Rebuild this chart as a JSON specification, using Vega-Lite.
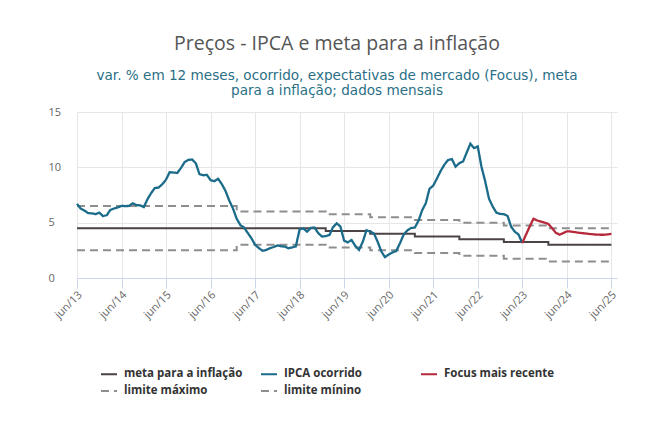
{
  "$schema": "https://vega.github.io/schema/vega-lite/v6.json",
  "width": 540,
  "height": 166,
  "autosize": {"type": "none"},
  "padding": {"left": 77, "top": 112, "right": 37, "bottom": 156},
  "background": "#ffffff",
  "title": {
    "text": "Preços - IPCA e meta para a inflação",
    "subtitle": ["var. % em 12 meses, ocorrido, expectativas de mercado (Focus), meta", "para a inflação; dados mensais"],
    "anchor": "middle",
    "dx": -10,
    "font": "Open Sans",
    "fontSize": 19.5,
    "fontWeight": 500,
    "color": "#555555",
    "subtitleFont": "DejaVu Sans",
    "subtitleFontSize": 13.6,
    "subtitleColor": "#2a6f86",
    "subtitlePadding": 14,
    "subtitleLineHeight": 15.5,
    "offset": 7
  },
  "config": {
    "view": {"stroke": null},
    "font": "Open Sans",
    "axis": {
      "labelFont": "Open Sans",
      "labelColor": "#666666",
      "labelFontSize": 11,
      "gridColor": "#e6e6e6",
      "title": null
    }
  },
  "data": {
    "values": [
      {"data": "2013-06-01", "serie": "IPCA ocorrido", "valor": 6.70},
      {"data": "2013-07-01", "serie": "IPCA ocorrido", "valor": 6.27},
      {"data": "2013-08-01", "serie": "IPCA ocorrido", "valor": 6.09},
      {"data": "2013-09-01", "serie": "IPCA ocorrido", "valor": 5.86},
      {"data": "2013-10-01", "serie": "IPCA ocorrido", "valor": 5.84},
      {"data": "2013-11-01", "serie": "IPCA ocorrido", "valor": 5.77},
      {"data": "2013-12-01", "serie": "IPCA ocorrido", "valor": 5.91},
      {"data": "2014-01-01", "serie": "IPCA ocorrido", "valor": 5.59},
      {"data": "2014-02-01", "serie": "IPCA ocorrido", "valor": 5.68},
      {"data": "2014-03-01", "serie": "IPCA ocorrido", "valor": 6.15},
      {"data": "2014-04-01", "serie": "IPCA ocorrido", "valor": 6.28},
      {"data": "2014-05-01", "serie": "IPCA ocorrido", "valor": 6.37},
      {"data": "2014-06-01", "serie": "IPCA ocorrido", "valor": 6.52},
      {"data": "2014-07-01", "serie": "IPCA ocorrido", "valor": 6.50},
      {"data": "2014-08-01", "serie": "IPCA ocorrido", "valor": 6.51},
      {"data": "2014-09-01", "serie": "IPCA ocorrido", "valor": 6.75},
      {"data": "2014-10-01", "serie": "IPCA ocorrido", "valor": 6.59},
      {"data": "2014-11-01", "serie": "IPCA ocorrido", "valor": 6.56},
      {"data": "2014-12-01", "serie": "IPCA ocorrido", "valor": 6.41},
      {"data": "2015-01-01", "serie": "IPCA ocorrido", "valor": 7.14},
      {"data": "2015-02-01", "serie": "IPCA ocorrido", "valor": 7.70},
      {"data": "2015-03-01", "serie": "IPCA ocorrido", "valor": 8.13},
      {"data": "2015-04-01", "serie": "IPCA ocorrido", "valor": 8.17},
      {"data": "2015-05-01", "serie": "IPCA ocorrido", "valor": 8.47},
      {"data": "2015-06-01", "serie": "IPCA ocorrido", "valor": 8.89},
      {"data": "2015-07-01", "serie": "IPCA ocorrido", "valor": 9.56},
      {"data": "2015-08-01", "serie": "IPCA ocorrido", "valor": 9.53},
      {"data": "2015-09-01", "serie": "IPCA ocorrido", "valor": 9.49},
      {"data": "2015-10-01", "serie": "IPCA ocorrido", "valor": 9.93},
      {"data": "2015-11-01", "serie": "IPCA ocorrido", "valor": 10.48},
      {"data": "2015-12-01", "serie": "IPCA ocorrido", "valor": 10.67},
      {"data": "2016-01-01", "serie": "IPCA ocorrido", "valor": 10.71},
      {"data": "2016-02-01", "serie": "IPCA ocorrido", "valor": 10.36},
      {"data": "2016-03-01", "serie": "IPCA ocorrido", "valor": 9.39},
      {"data": "2016-04-01", "serie": "IPCA ocorrido", "valor": 9.28},
      {"data": "2016-05-01", "serie": "IPCA ocorrido", "valor": 9.32},
      {"data": "2016-06-01", "serie": "IPCA ocorrido", "valor": 8.84},
      {"data": "2016-07-01", "serie": "IPCA ocorrido", "valor": 8.74},
      {"data": "2016-08-01", "serie": "IPCA ocorrido", "valor": 8.97},
      {"data": "2016-09-01", "serie": "IPCA ocorrido", "valor": 8.48},
      {"data": "2016-10-01", "serie": "IPCA ocorrido", "valor": 7.87},
      {"data": "2016-11-01", "serie": "IPCA ocorrido", "valor": 6.99},
      {"data": "2016-12-01", "serie": "IPCA ocorrido", "valor": 6.29},
      {"data": "2017-01-01", "serie": "IPCA ocorrido", "valor": 5.35},
      {"data": "2017-02-01", "serie": "IPCA ocorrido", "valor": 4.76},
      {"data": "2017-03-01", "serie": "IPCA ocorrido", "valor": 4.57},
      {"data": "2017-04-01", "serie": "IPCA ocorrido", "valor": 4.08},
      {"data": "2017-05-01", "serie": "IPCA ocorrido", "valor": 3.60},
      {"data": "2017-06-01", "serie": "IPCA ocorrido", "valor": 3.00},
      {"data": "2017-07-01", "serie": "IPCA ocorrido", "valor": 2.71},
      {"data": "2017-08-01", "serie": "IPCA ocorrido", "valor": 2.46},
      {"data": "2017-09-01", "serie": "IPCA ocorrido", "valor": 2.54},
      {"data": "2017-10-01", "serie": "IPCA ocorrido", "valor": 2.70},
      {"data": "2017-11-01", "serie": "IPCA ocorrido", "valor": 2.80},
      {"data": "2017-12-01", "serie": "IPCA ocorrido", "valor": 2.95},
      {"data": "2018-01-01", "serie": "IPCA ocorrido", "valor": 2.86},
      {"data": "2018-02-01", "serie": "IPCA ocorrido", "valor": 2.84},
      {"data": "2018-03-01", "serie": "IPCA ocorrido", "valor": 2.68},
      {"data": "2018-04-01", "serie": "IPCA ocorrido", "valor": 2.76},
      {"data": "2018-05-01", "serie": "IPCA ocorrido", "valor": 2.86},
      {"data": "2018-06-01", "serie": "IPCA ocorrido", "valor": 4.39},
      {"data": "2018-07-01", "serie": "IPCA ocorrido", "valor": 4.48},
      {"data": "2018-08-01", "serie": "IPCA ocorrido", "valor": 4.19},
      {"data": "2018-09-01", "serie": "IPCA ocorrido", "valor": 4.53},
      {"data": "2018-10-01", "serie": "IPCA ocorrido", "valor": 4.56},
      {"data": "2018-11-01", "serie": "IPCA ocorrido", "valor": 4.05},
      {"data": "2018-12-01", "serie": "IPCA ocorrido", "valor": 3.75},
      {"data": "2019-01-01", "serie": "IPCA ocorrido", "valor": 3.78},
      {"data": "2019-02-01", "serie": "IPCA ocorrido", "valor": 3.89},
      {"data": "2019-03-01", "serie": "IPCA ocorrido", "valor": 4.58},
      {"data": "2019-04-01", "serie": "IPCA ocorrido", "valor": 4.94},
      {"data": "2019-05-01", "serie": "IPCA ocorrido", "valor": 4.66},
      {"data": "2019-06-01", "serie": "IPCA ocorrido", "valor": 3.37},
      {"data": "2019-07-01", "serie": "IPCA ocorrido", "valor": 3.22},
      {"data": "2019-08-01", "serie": "IPCA ocorrido", "valor": 3.43},
      {"data": "2019-09-01", "serie": "IPCA ocorrido", "valor": 2.89},
      {"data": "2019-10-01", "serie": "IPCA ocorrido", "valor": 2.54},
      {"data": "2019-11-01", "serie": "IPCA ocorrido", "valor": 3.27},
      {"data": "2019-12-01", "serie": "IPCA ocorrido", "valor": 4.31},
      {"data": "2020-01-01", "serie": "IPCA ocorrido", "valor": 4.19},
      {"data": "2020-02-01", "serie": "IPCA ocorrido", "valor": 4.01},
      {"data": "2020-03-01", "serie": "IPCA ocorrido", "valor": 3.30},
      {"data": "2020-04-01", "serie": "IPCA ocorrido", "valor": 2.40},
      {"data": "2020-05-01", "serie": "IPCA ocorrido", "valor": 1.88},
      {"data": "2020-06-01", "serie": "IPCA ocorrido", "valor": 2.13},
      {"data": "2020-07-01", "serie": "IPCA ocorrido", "valor": 2.31},
      {"data": "2020-08-01", "serie": "IPCA ocorrido", "valor": 2.44},
      {"data": "2020-09-01", "serie": "IPCA ocorrido", "valor": 3.14},
      {"data": "2020-10-01", "serie": "IPCA ocorrido", "valor": 3.92},
      {"data": "2020-11-01", "serie": "IPCA ocorrido", "valor": 4.31},
      {"data": "2020-12-01", "serie": "IPCA ocorrido", "valor": 4.52},
      {"data": "2021-01-01", "serie": "IPCA ocorrido", "valor": 4.56},
      {"data": "2021-02-01", "serie": "IPCA ocorrido", "valor": 5.20},
      {"data": "2021-03-01", "serie": "IPCA ocorrido", "valor": 6.10},
      {"data": "2021-04-01", "serie": "IPCA ocorrido", "valor": 6.76},
      {"data": "2021-05-01", "serie": "IPCA ocorrido", "valor": 8.06},
      {"data": "2021-06-01", "serie": "IPCA ocorrido", "valor": 8.35},
      {"data": "2021-07-01", "serie": "IPCA ocorrido", "valor": 8.99},
      {"data": "2021-08-01", "serie": "IPCA ocorrido", "valor": 9.68},
      {"data": "2021-09-01", "serie": "IPCA ocorrido", "valor": 10.25},
      {"data": "2021-10-01", "serie": "IPCA ocorrido", "valor": 10.67},
      {"data": "2021-11-01", "serie": "IPCA ocorrido", "valor": 10.74},
      {"data": "2021-12-01", "serie": "IPCA ocorrido", "valor": 10.06},
      {"data": "2022-01-01", "serie": "IPCA ocorrido", "valor": 10.38},
      {"data": "2022-02-01", "serie": "IPCA ocorrido", "valor": 10.54},
      {"data": "2022-03-01", "serie": "IPCA ocorrido", "valor": 11.30},
      {"data": "2022-04-01", "serie": "IPCA ocorrido", "valor": 12.13},
      {"data": "2022-05-01", "serie": "IPCA ocorrido", "valor": 11.73},
      {"data": "2022-06-01", "serie": "IPCA ocorrido", "valor": 11.89},
      {"data": "2022-07-01", "serie": "IPCA ocorrido", "valor": 10.07},
      {"data": "2022-08-01", "serie": "IPCA ocorrido", "valor": 8.73},
      {"data": "2022-09-01", "serie": "IPCA ocorrido", "valor": 7.17},
      {"data": "2022-10-01", "serie": "IPCA ocorrido", "valor": 6.47},
      {"data": "2022-11-01", "serie": "IPCA ocorrido", "valor": 5.90},
      {"data": "2022-12-01", "serie": "IPCA ocorrido", "valor": 5.79},
      {"data": "2023-01-01", "serie": "IPCA ocorrido", "valor": 5.77},
      {"data": "2023-02-01", "serie": "IPCA ocorrido", "valor": 5.60},
      {"data": "2023-03-01", "serie": "IPCA ocorrido", "valor": 4.65},
      {"data": "2023-04-01", "serie": "IPCA ocorrido", "valor": 4.18},
      {"data": "2023-05-01", "serie": "IPCA ocorrido", "valor": 3.94},
      {"data": "2023-06-01", "serie": "IPCA ocorrido", "valor": 3.16},
      {"data": "2023-06-01", "serie": "Focus mais recente", "valor": 3.16},
      {"data": "2023-07-01", "serie": "Focus mais recente", "valor": 3.9},
      {"data": "2023-08-01", "serie": "Focus mais recente", "valor": 4.65},
      {"data": "2023-09-01", "serie": "Focus mais recente", "valor": 5.36},
      {"data": "2023-10-01", "serie": "Focus mais recente", "valor": 5.2},
      {"data": "2023-11-01", "serie": "Focus mais recente", "valor": 5.1},
      {"data": "2023-12-01", "serie": "Focus mais recente", "valor": 5.0},
      {"data": "2024-01-01", "serie": "Focus mais recente", "valor": 4.88},
      {"data": "2024-02-01", "serie": "Focus mais recente", "valor": 4.5},
      {"data": "2024-03-01", "serie": "Focus mais recente", "valor": 4.1},
      {"data": "2024-04-01", "serie": "Focus mais recente", "valor": 3.91},
      {"data": "2024-05-01", "serie": "Focus mais recente", "valor": 4.05},
      {"data": "2024-06-01", "serie": "Focus mais recente", "valor": 4.22},
      {"data": "2024-07-01", "serie": "Focus mais recente", "valor": 4.2},
      {"data": "2024-08-01", "serie": "Focus mais recente", "valor": 4.15},
      {"data": "2024-09-01", "serie": "Focus mais recente", "valor": 4.1},
      {"data": "2024-10-01", "serie": "Focus mais recente", "valor": 4.06},
      {"data": "2024-11-01", "serie": "Focus mais recente", "valor": 4.02},
      {"data": "2024-12-01", "serie": "Focus mais recente", "valor": 3.98},
      {"data": "2025-01-01", "serie": "Focus mais recente", "valor": 3.95},
      {"data": "2025-02-01", "serie": "Focus mais recente", "valor": 3.92},
      {"data": "2025-03-01", "serie": "Focus mais recente", "valor": 3.91},
      {"data": "2025-04-01", "serie": "Focus mais recente", "valor": 3.91},
      {"data": "2025-05-01", "serie": "Focus mais recente", "valor": 3.94},
      {"data": "2025-06-01", "serie": "Focus mais recente", "valor": 3.98},
      {"data": "2013-06-01", "serie": "meta para a inflação", "valor": 4.5},
      {"data": "2019-01-01", "serie": "meta para a inflação", "valor": 4.25},
      {"data": "2020-01-01", "serie": "meta para a inflação", "valor": 4.0},
      {"data": "2021-01-01", "serie": "meta para a inflação", "valor": 3.75},
      {"data": "2022-01-01", "serie": "meta para a inflação", "valor": 3.5},
      {"data": "2023-01-01", "serie": "meta para a inflação", "valor": 3.25},
      {"data": "2024-01-01", "serie": "meta para a inflação", "valor": 3.0},
      {"data": "2025-06-01", "serie": "meta para a inflação", "valor": 3.0},
      {"data": "2013-06-01", "serie": "limite máximo", "valor": 6.5},
      {"data": "2017-01-01", "serie": "limite máximo", "valor": 6.0},
      {"data": "2019-01-01", "serie": "limite máximo", "valor": 5.75},
      {"data": "2020-01-01", "serie": "limite máximo", "valor": 5.5},
      {"data": "2021-01-01", "serie": "limite máximo", "valor": 5.25},
      {"data": "2022-01-01", "serie": "limite máximo", "valor": 5.0},
      {"data": "2023-01-01", "serie": "limite máximo", "valor": 4.75},
      {"data": "2024-01-01", "serie": "limite máximo", "valor": 4.5},
      {"data": "2025-06-01", "serie": "limite máximo", "valor": 4.5},
      {"data": "2013-06-01", "serie": "limite mínino", "valor": 2.5},
      {"data": "2017-01-01", "serie": "limite mínino", "valor": 3.0},
      {"data": "2019-01-01", "serie": "limite mínino", "valor": 2.75},
      {"data": "2020-01-01", "serie": "limite mínino", "valor": 2.5},
      {"data": "2021-01-01", "serie": "limite mínino", "valor": 2.25},
      {"data": "2022-01-01", "serie": "limite mínino", "valor": 2.0},
      {"data": "2023-01-01", "serie": "limite mínino", "valor": 1.75},
      {"data": "2024-01-01", "serie": "limite mínino", "valor": 1.5},
      {"data": "2025-06-01", "serie": "limite mínino", "valor": 1.5}
    ]
  },
  "encoding": {
    "x": {
      "field": "data",
      "type": "temporal",
      "scale": {"type": "utc", "domain": [{"year": 2013, "month": 6, "date": 1, "utc": true}, {"year": 2025, "month": 7, "date": 17, "utc": true}]},
      "axis": {
        "values": [
          {"year": 2013, "month": 6, "date": 1, "utc": true},
          {"year": 2014, "month": 6, "date": 1, "utc": true},
          {"year": 2015, "month": 6, "date": 1, "utc": true},
          {"year": 2016, "month": 6, "date": 1, "utc": true},
          {"year": 2017, "month": 6, "date": 1, "utc": true},
          {"year": 2018, "month": 6, "date": 1, "utc": true},
          {"year": 2019, "month": 6, "date": 1, "utc": true},
          {"year": 2020, "month": 6, "date": 1, "utc": true},
          {"year": 2021, "month": 6, "date": 1, "utc": true},
          {"year": 2022, "month": 6, "date": 1, "utc": true},
          {"year": 2023, "month": 6, "date": 1, "utc": true},
          {"year": 2024, "month": 6, "date": 1, "utc": true},
          {"year": 2025, "month": 6, "date": 1, "utc": true}
        ],
        "labelExpr": "lower(utcFormat(datum.value, '%b/%y'))",
        "labelAngle": -45,
        "labelAlign": "right",
        "labelBaseline": "middle",
        "labelPadding": 5,
        "labelOffset": 3,
        "tickSize": 10,
        "tickColor": "#ccd6eb",
        "domainColor": "#ccd6eb",
        "grid": true,
        "labelOverlap": false,
        "labelFlush": false
      }
    },
    "y": {
      "field": "valor",
      "type": "quantitative",
      "scale": {"domain": [0, 15], "nice": false},
      "axis": {
        "values": [0, 5, 10, 15],
        "domain": false,
        "ticks": false,
        "labelAlign": "left",
        "labelPadding": 29
      }
    },
    "color": {
      "field": "serie",
      "type": "nominal",
      "scale": {
        "domain": ["meta para a inflação", "IPCA ocorrido", "Focus mais recente", "limite máximo", "limite mínino"],
        "range": ["#4b4245", "#1b6b8a", "#b5293b", "#8e8e8e", "#8e8e8e"]
      },
      "legend": {
        "title": null,
        "orient": "none",
        "legendX": 23,
        "legendY": 253,
        "direction": "horizontal",
        "columns": 3,
        "gridAlign": "all",
        "columnPadding": 14,
        "rowPadding": 2,
        "symbolType": "stroke",
        "symbolSize": 256,
        "symbolStrokeWidth": 2,
        "labelFont": "Open Sans",
        "labelFontSize": 11.5,
        "labelFontWeight": "bold",
        "labelColor": "#333333",
        "labelOffset": 6
      }
    },
    "strokeDash": {
      "field": "serie",
      "type": "nominal",
      "scale": {
        "domain": ["meta para a inflação", "IPCA ocorrido", "Focus mais recente", "limite máximo", "limite mínino"],
        "range": [[1, 0], [1, 0], [1, 0], [8, 5], [8, 5]]
      },
      "legend": null
    }
  },
  "layer": [
    {
      "transform": [{"filter": "datum.serie == 'meta para a inflação' || datum.serie == 'limite máximo' || datum.serie == 'limite mínino'"}],
      "mark": {"type": "line", "interpolate": "step-after", "strokeWidth": 2}
    },
    {
      "transform": [{"filter": "datum.serie == 'IPCA ocorrido' || datum.serie == 'Focus mais recente'"}],
      "mark": {"type": "line", "strokeWidth": 2.3}
    }
  ]
}
